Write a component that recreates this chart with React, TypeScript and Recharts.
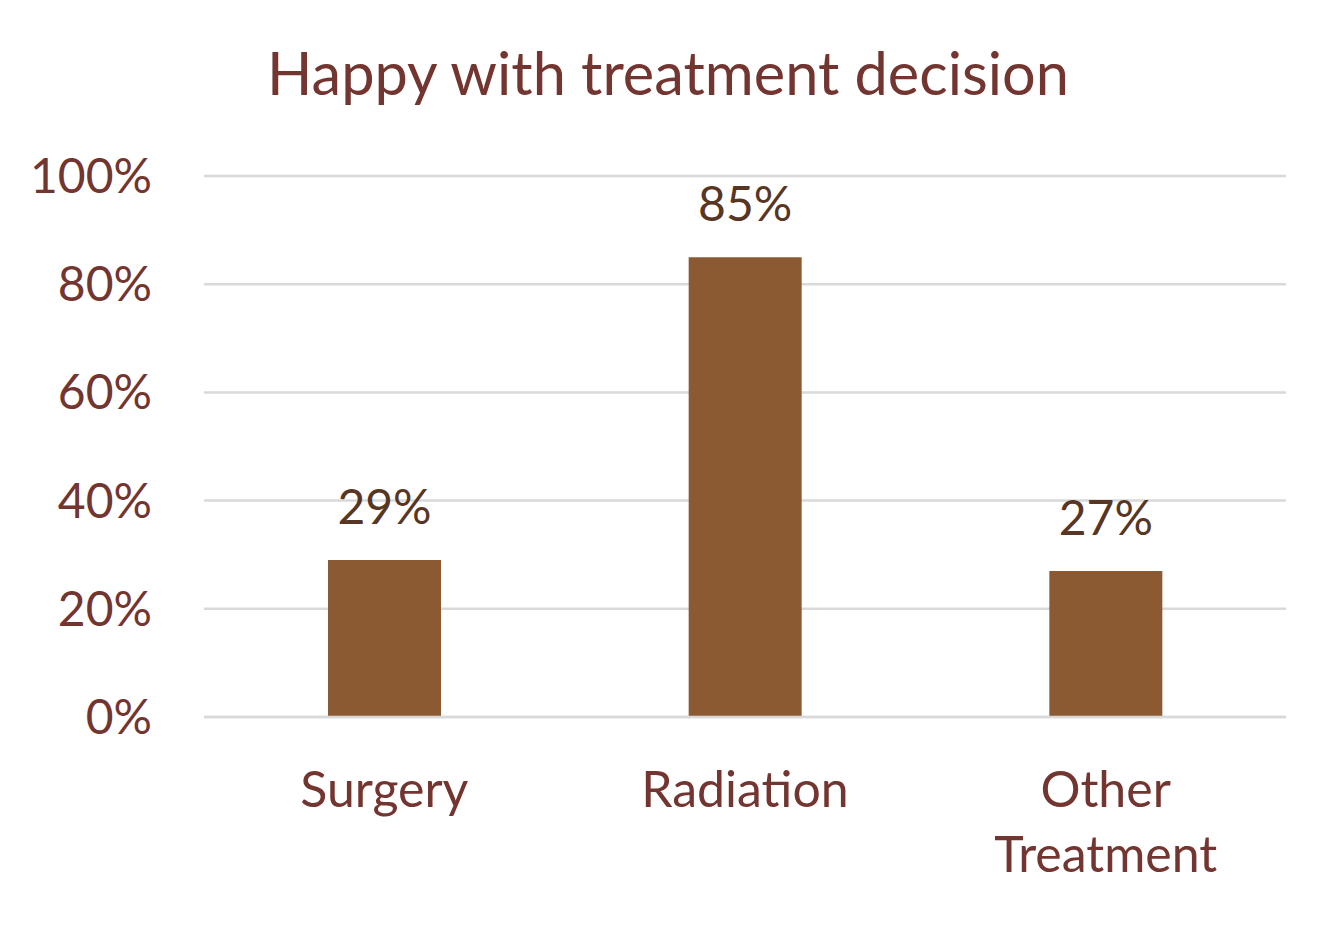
import React from "react";
import { BarChart, Bar, XAxis, YAxis, CartesianGrid, LabelList } from "recharts";

const categories = ["Surgery", "Radiation", "Other Treatment"];
const happyShare = [0.29, 0.85, 0.27];
const yTicks = [0, 0.2, 0.4, 0.6, 0.8, 1];

const chartData = categories.map((name, i) => ({ name, value: happyShare[i] }));

const FONT = "Lato, 'Noto Sans', sans-serif";
const RED_BROWN = "#733530";

const pct = (v: number) => `${Math.round(v * 100)}%`;

function CategoryTick(props: any) {
  const { x, y, payload } = props;
  const words: string[] =
    payload.value === "Other Treatment" ? ["Other", "Treatment"] : [payload.value];
  return (
    <text
      x={x}
      y={y}
      textAnchor="middle"
      fill={RED_BROWN}
      fontSize={50}
      fontFamily={FONT}
    >
      {words.map((w, i) => (
        <tspan key={w} x={x} y={y + 88 + i * 65}>
          {w}
        </tspan>
      ))}
    </text>
  );
}

export default function App() {
  return (
    <div style={{ position: "absolute", left: 0, top: 0, width: 1342, height: 925, background: "#fff" }}>
      <svg width={1342} height={120} style={{ position: "absolute", left: 0, top: 0 }}>
        <text
          x={668}
          y={95}
          textAnchor="middle"
          fill={RED_BROWN}
          fontSize={59.5}
          fontFamily={FONT}
        >
          Happy with treatment decision
        </text>
      </svg>
      <BarChart
        width={1342}
        height={925}
        data={chartData}
        margin={{ top: 176, right: 56, left: 0, bottom: 0 }}
      >
        <CartesianGrid vertical={false} stroke="#D9D9D9" strokeWidth={2.5} />
        <XAxis
          dataKey="name"
          height={208}
          axisLine={{ stroke: "#D9D9D9", strokeWidth: 2.5 }}
          tickLine={false}
          tickSize={0}
          interval={0}
          tick={<CategoryTick />}
        />
        <YAxis
          width={204}
          domain={[0, 1]}
          ticks={yTicks}
          tickFormatter={pct}
          axisLine={false}
          tickLine={false}
          tickSize={0}
          tickMargin={52}
          tick={{ fill: RED_BROWN, fontSize: 48, fontFamily: FONT }}
        />
        <Bar dataKey="value" fill="#8B5A33" barSize={113} isAnimationActive={false}>
          <LabelList
            dataKey="value"
            position="top"
            offset={36}
            formatter={(v: any) => pct(Number(v))}
            fill="#573624"
            fontSize={48}
            fontFamily={FONT}
          />
        </Bar>
      </BarChart>
    </div>
  );
}
